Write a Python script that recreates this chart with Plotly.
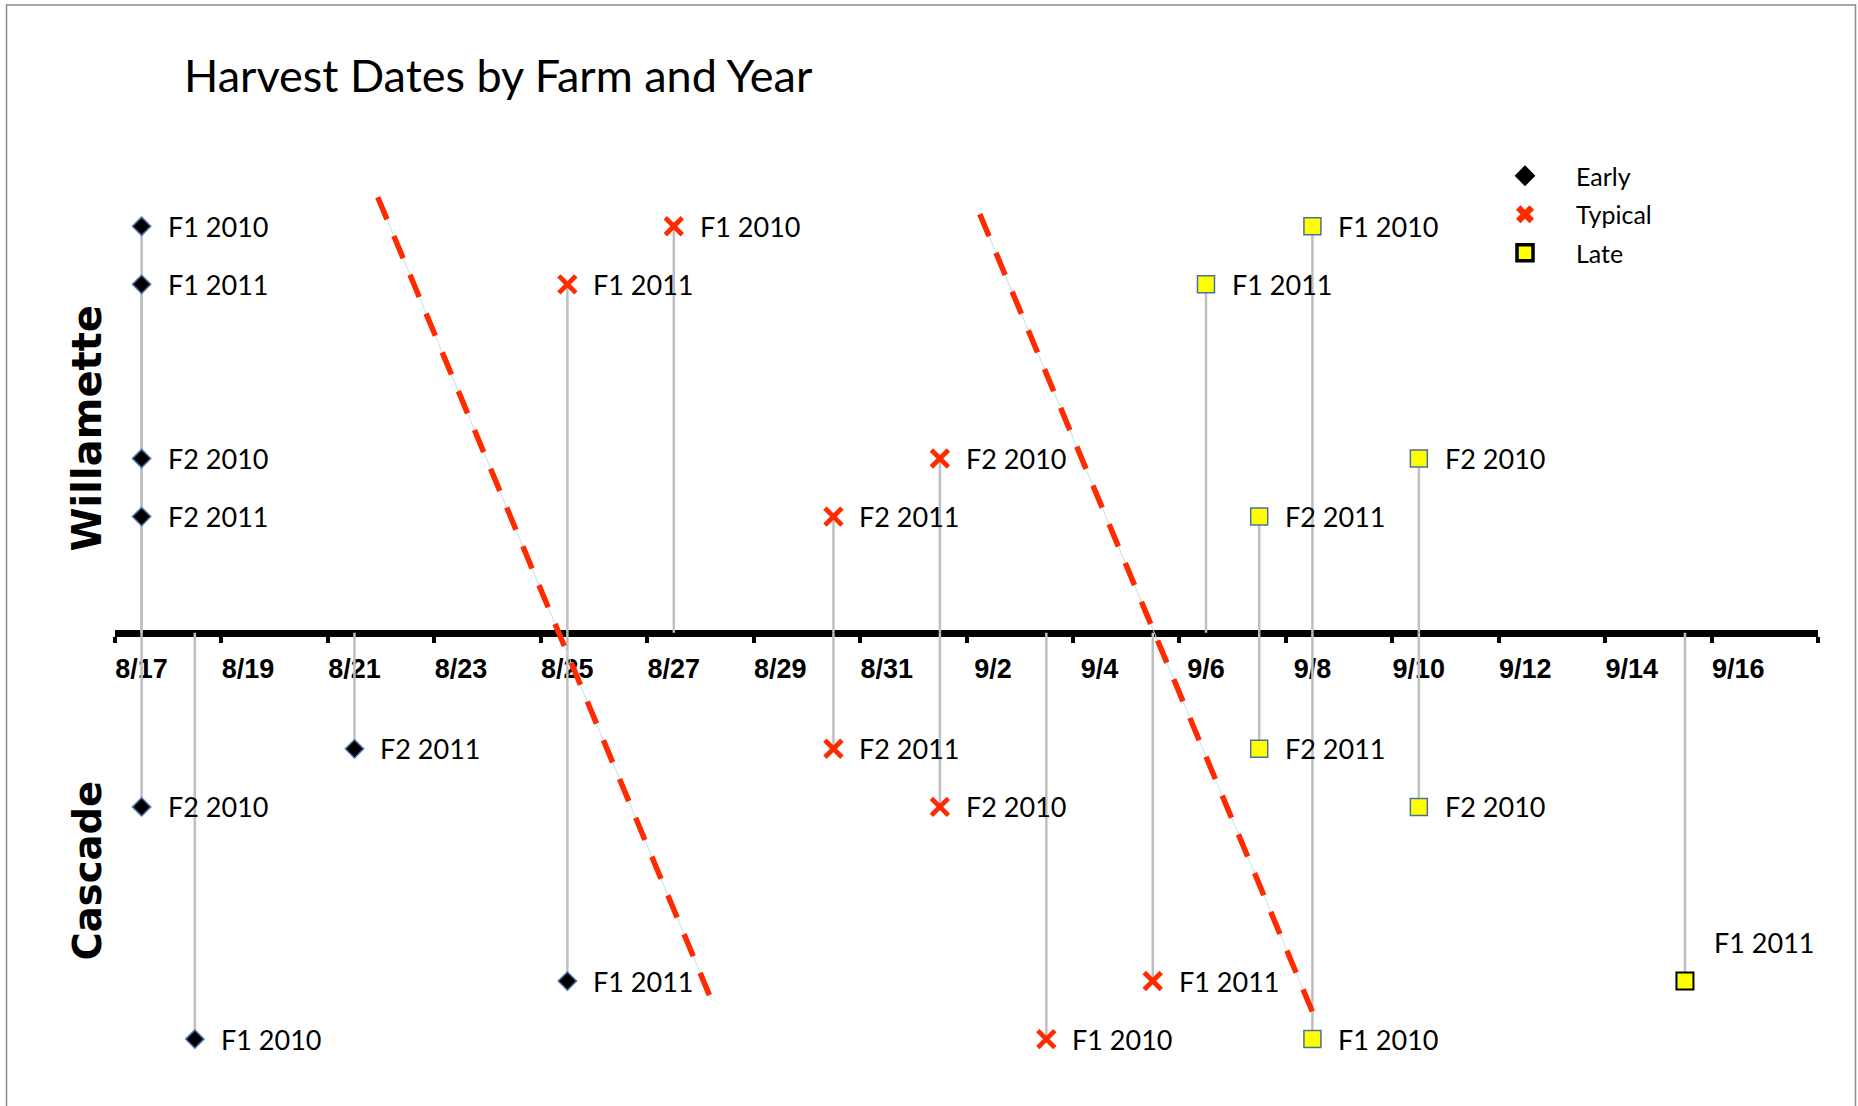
import pandas as pd
import plotly.graph_objects as go

# Both seasons are laid on one shared month/day calendar
SEASON_YEAR = 2011

farms = ["Willamette", "Cascade"]
fields = ["F1 2010", "F1 2011", "F2 2010", "F2 2011"]
categories = ["Early", "Typical", "Late"]

# Harvest dates (month/day), in the order of `fields`
willamette_early = ["8/17", "8/17", "8/17", "8/17"]
willamette_typical = ["8/27", "8/25", "9/1", "8/30"]
willamette_late = ["9/8", "9/6", "9/10", "9/7"]
cascade_early = ["8/18", "8/25", "8/17", "8/21"]
cascade_typical = ["9/3", "9/5", "9/1", "8/30"]
cascade_late = ["9/8", "9/15", "9/10", "9/7"]

# Lane of each field/year away from the date axis; Willamette above, Cascade below
lane = {"F1 2010": 7, "F1 2011": 6, "F2 2010": 3, "F2 2011": 2}
farm_side = {"Willamette": 1, "Cascade": -1}

# Dashed boundaries: Early | Typical and Typical | Late windows
boundary_x = [["8/21 10:30", "8/27 17:00"], ["9/1 18:00", "9/8 00:00"]]
boundary_y = [[7.5, -6.33], [7.21, -6.53]]

harvest = {
    ("Willamette", "Early"): willamette_early,
    ("Willamette", "Typical"): willamette_typical,
    ("Willamette", "Late"): willamette_late,
    ("Cascade", "Early"): cascade_early,
    ("Cascade", "Typical"): cascade_typical,
    ("Cascade", "Late"): cascade_late,
}


def to_date(md):
    return pd.to_datetime(f"{SEASON_YEAR}/{md}").strftime("%Y-%m-%d %H:%M")


# ---- page geometry -------------------------------------------------------
W, H = 1858, 1106
ML, MR, MT, MB = 115, 40, 150, 6
PW, PH = W - ML - MR, H - MT - MB
AXIS_PX = 632.7      # vertical pixel of the date axis
LANE_PX = 58.06      # pixels per lane unit

y_max = (AXIS_PX - MT) / LANE_PX
y_min = -(MT + PH - AXIS_PX) / LANE_PX
axis_position = -y_min / (y_max - y_min)


def paper_x(px):
    return (px - ML) / PW


def paper_y(py):
    return 1 - (py - MT) / PH


RED = "#ff2a00"
STEM = "#bfbfbf"
EDGE = "#4a6fa5"

marker_style = {
    "Early": dict(symbol="diamond", size=14, color="black"),
    "Typical": dict(symbol="x-thin", size=17, color=RED),
    "Late": dict(symbol="square", size=17, color="#ffff00"),
}
# individually outlined point
black_edge = {("Cascade", "Late", "F1 2011")}

fig = go.Figure()
annotations = []

for cat in categories:
    xs, ys, edge_colors, edge_widths = [], [], [], []
    for farm in farms:
        for field, md in zip(fields, harvest[(farm, cat)]):
            x = to_date(md)
            y = farm_side[farm] * lane[field]
            xs.append(x)
            ys.append(y)
            if cat == "Typical":
                edge_colors.append(RED)
                edge_widths.append(4.8)
            elif (farm, cat, field) in black_edge:
                edge_colors.append("black")
                edge_widths.append(2)
            else:
                edge_colors.append(EDGE)
                edge_widths.append(1.5)
            above = (farm, cat, field) in black_edge
            annotations.append(dict(
                x=x, y=y, xref="x", yref="y", text=field, showarrow=False,
                xanchor="left", yanchor="middle",
                xshift=27 if above else 24, yshift=39 if above else 0,
                font=dict(family="Lato", size=27, color="black"),
            ))
    ms = marker_style[cat]
    fig.add_trace(go.Scatter(
        x=xs, y=ys, mode="markers", name=cat, showlegend=False,
        marker=dict(symbol=ms["symbol"], size=ms["size"], color=ms["color"],
                    line=dict(color=edge_colors, width=edge_widths)),
        error_y=dict(type="data", symmetric=False,
                     array=[max(-v, 0) for v in ys],
                     arrayminus=[max(v, 0) for v in ys],
                     width=0, thickness=2.5, color=STEM),
        hoverinfo="x+y",
    ))

# dashed window boundaries with a fine guide line beneath
for bx, by in zip(boundary_x, boundary_y):
    bxd = [to_date(v) for v in bx]
    fig.add_trace(go.Scatter(x=bxd, y=by, mode="lines", showlegend=False,
                             line=dict(color="#bfe3ea", width=1), hoverinfo="skip"))
    fig.add_trace(go.Scatter(x=bxd, y=by, mode="lines", showlegend=False,
                             line=dict(color=RED, width=5.5, dash="24px,18px"),
                             hoverinfo="skip"))

# legend entries
legend_markers = {
    "Early": dict(symbol="diamond", size=16, color="black", line=dict(width=0)),
    "Typical": dict(symbol="x", size=16, color=RED, line=dict(width=0)),
    "Late": dict(symbol="square", size=16, color="#ffff00",
                 line=dict(color="black", width=3.5)),
}
for cat in categories:
    fig.add_trace(go.Scatter(x=[None], y=[None], mode="markers", name=cat,
                             legendgroup=cat, marker=legend_markers[cat]))

# farm labels
for farm, py, fs in (("Willamette", 429, 40), ("Cascade", 871, 38.5)):
    annotations.append(dict(
        x=paper_x(86.5), y=paper_y(py), xref="paper", yref="paper",
        text=farm, showarrow=False, textangle=-90,
        xanchor="center", yanchor="middle",
        font=dict(family="DejaVu Sans", size=fs, color="black", weight="bold"),
    ))

two_days = 2 * 86400000
fig.update_layout(
    width=W, height=H,
    margin=dict(l=ML, r=MR, t=MT, b=MB, autoexpand=False),
    paper_bgcolor="white", plot_bgcolor="white",
    title=dict(text="Harvest Dates by Farm and Year", x=184 / W, xanchor="left",
               y=1 - 76 / H, yanchor="middle", xref="container", yref="container",
               font=dict(family="Lato", size=45, color="black")),
    xaxis=dict(
        type="date", range=[to_date("8/16 12:00"), to_date("9/17 12:00")],
        tickmode="linear", tick0=to_date("8/17"), dtick=two_days,
        tickformat="%-m/%-d", ticks="", showline=True, linecolor="black",
        linewidth=7, showgrid=False, zeroline=False, anchor="free",
        position=axis_position, layer="below traces",
        tickfont=dict(family="Liberation Sans", size=27, color="black", weight="bold"),
        ticklabelstandoff=9,
        minor=dict(tick0=to_date("8/16 12:00"), dtick=two_days, ticks="outside",
                   ticklen=6, tickwidth=4, tickcolor="black", showgrid=False),
    ),
    yaxis=dict(visible=False, range=[y_min, y_max], showgrid=False, zeroline=False),
    legend=dict(x=paper_x(1474), y=paper_y(153), xanchor="left", yanchor="top",
                font=dict(family="Lato", size=25, color="black"),
                itemwidth=92, tracegroupgap=3, bgcolor="rgba(0,0,0,0)"),
    annotations=annotations,
    shapes=[dict(type="rect", xref="paper", yref="paper",
                 x0=paper_x(6.5), x1=paper_x(1855.5), y0=paper_y(1112), y1=paper_y(5),
                 line=dict(color="#8c8c8c", width=1.5), layer="below")],
)

fig.write_html("out.html")
